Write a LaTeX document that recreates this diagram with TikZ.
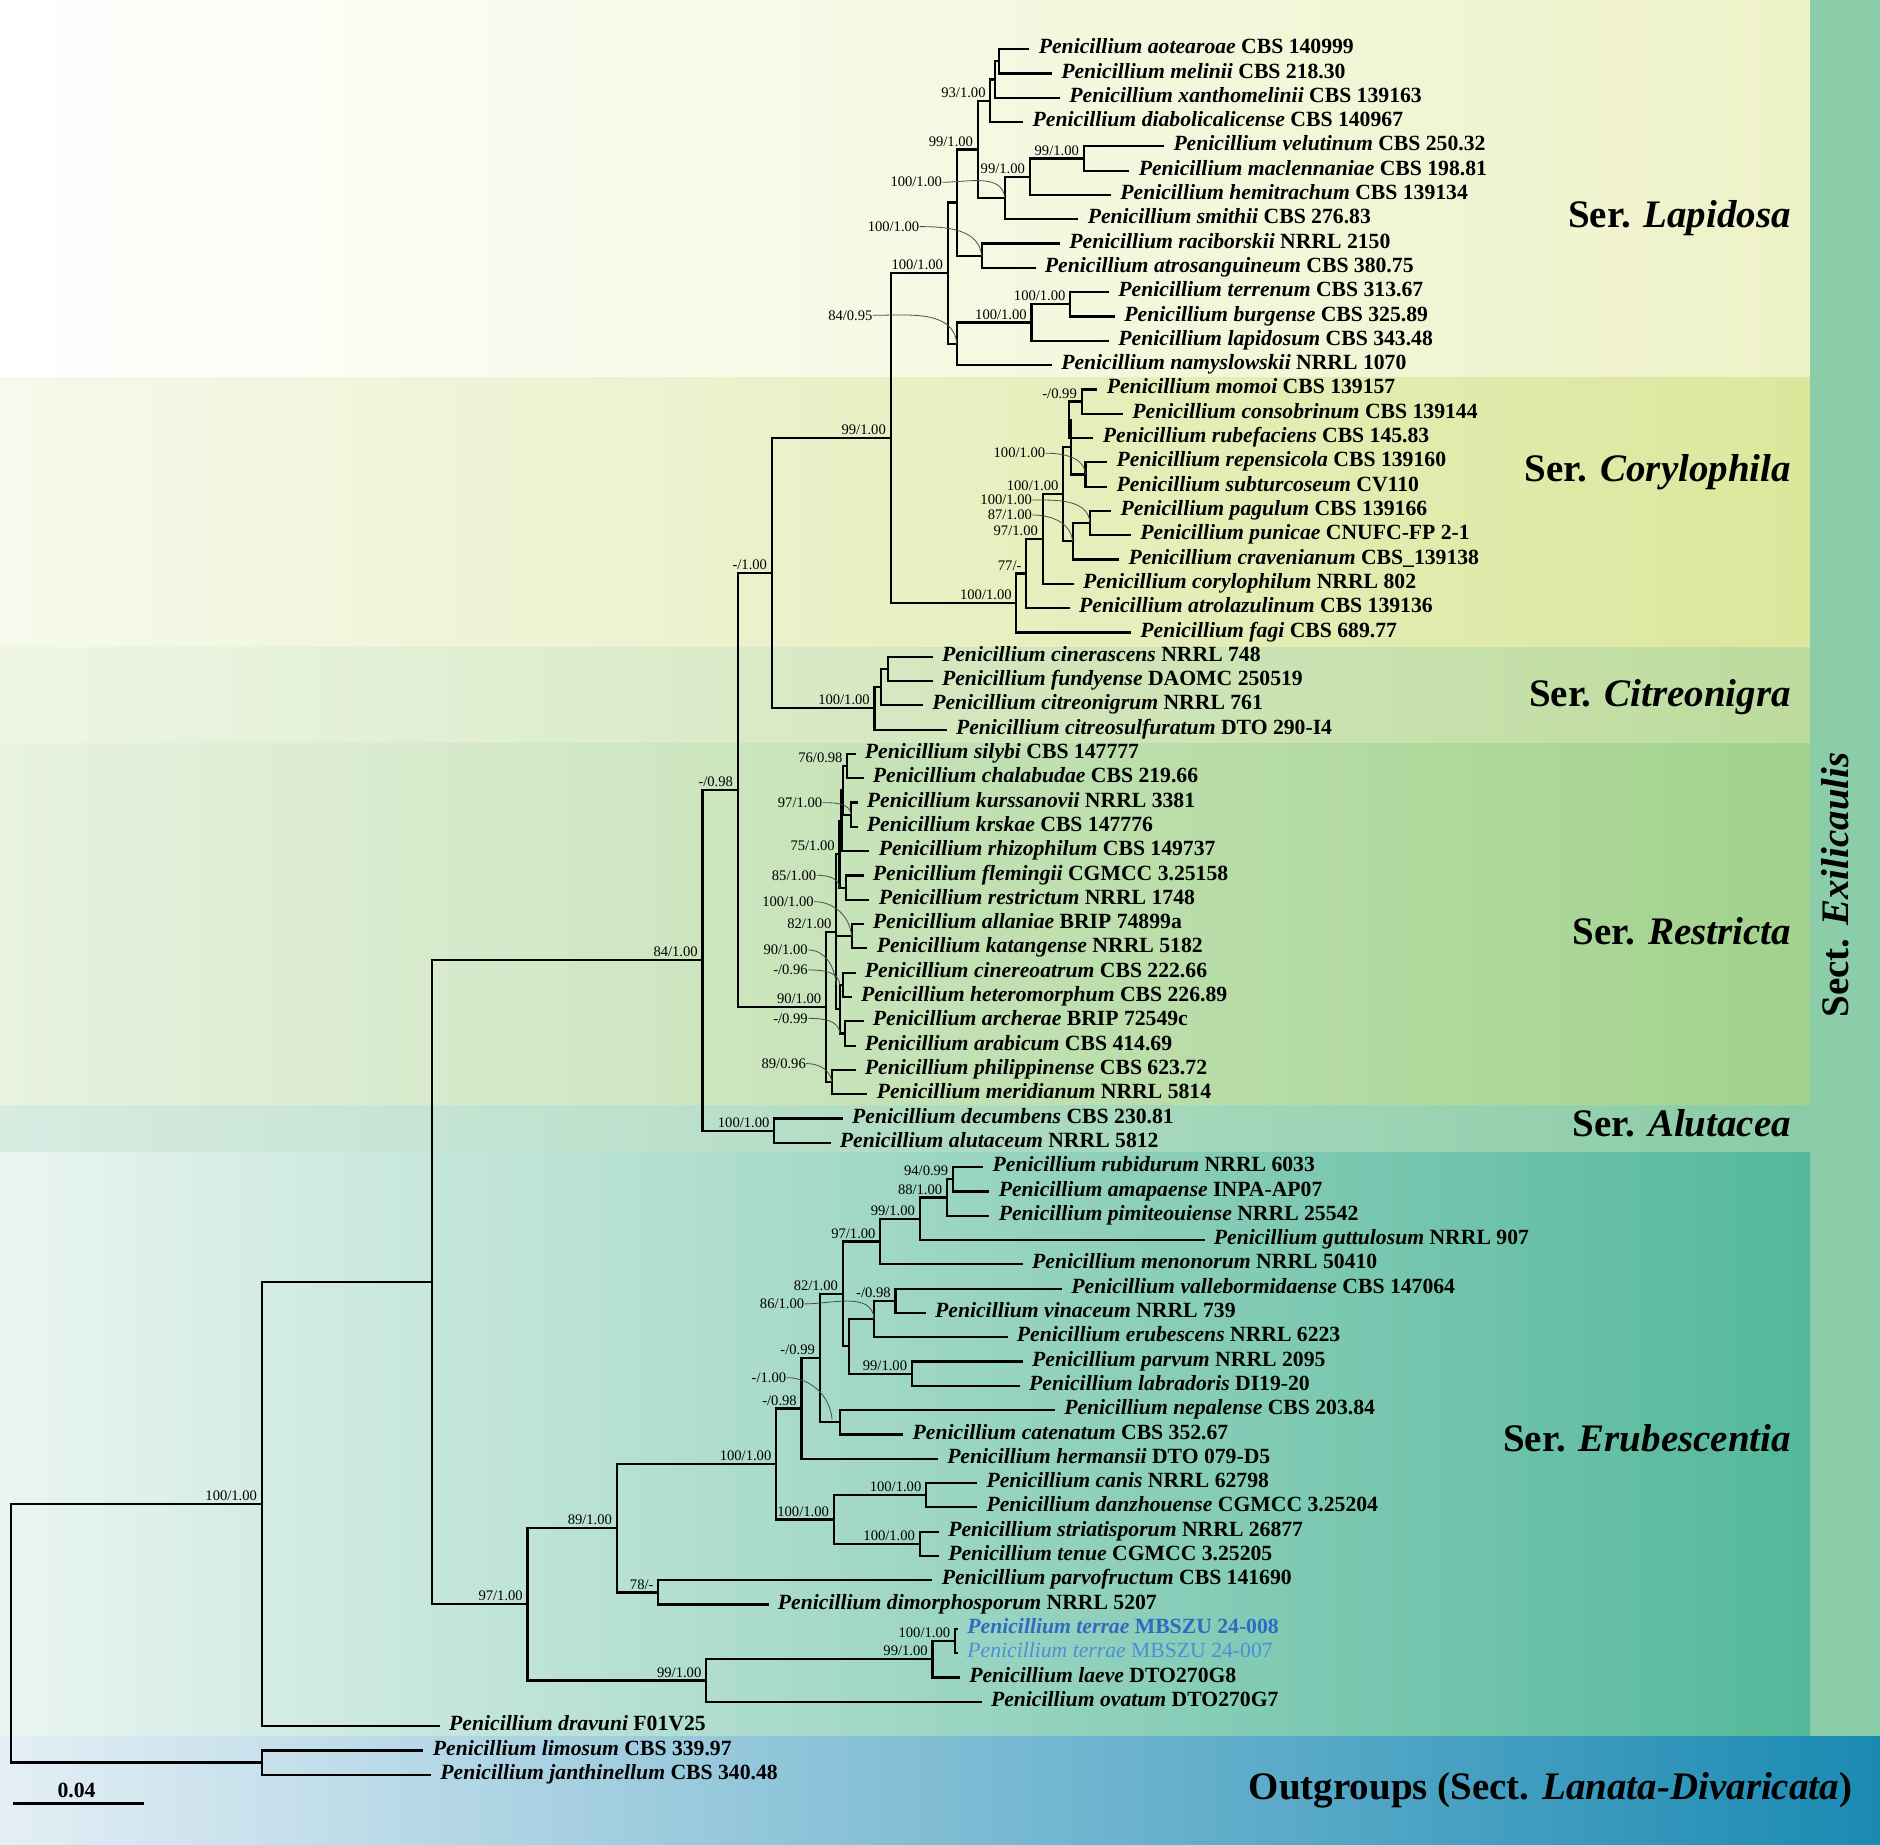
\documentclass[tikz,border=0pt]{standalone}
\usepackage{fontspec}
\setmainfont{Liberation Serif}
\usetikzlibrary{calc}

\definecolor{lapR}{HTML}{EEF2C8}
\definecolor{coryL}{HTML}{F6F9EC}
\definecolor{coryR}{HTML}{DCE79C}
\definecolor{citL}{HTML}{EEF5E5}
\definecolor{citR}{HTML}{BCDB9D}
\definecolor{resL}{HTML}{E8F2E0}
\definecolor{resR}{HTML}{A1D28C}
\definecolor{aluL}{HTML}{D8ECE2}
\definecolor{aluR}{HTML}{8ACCA6}
\definecolor{eruL}{HTML}{EAF5F2}
\definecolor{eruR}{HTML}{54B89A}
\definecolor{outL}{HTML}{E4EFF5}
\definecolor{outR}{HTML}{1A8AB3}
\definecolor{sect}{HTML}{8BCDA8}
\definecolor{terA}{HTML}{2F6BC0}
\definecolor{terB}{HTML}{4C8FD8}

\def\wtblack{\bfseries}
\def\wtterA{\bfseries}
\def\wtterB{\mdseries}

% clade: name, x, upper child, lower child
\newcommand\clade[4]{%
	\path ($(#3)!0.5!(#4)$) coordinate (#1-m);
	\coordinate (#1) at (#1-m -| #2,0);
	\draw[br] (#3) -| (#1) |- (#4);
}
\newcommand\sv[2]{\node[sup] (s#1) at (#1) {#2};}
\newcommand\svl[5]{\node[supl] (s#1) at (#2,#3) {#4};
	\draw[lead] (s#1.east) to[out=0,in=95] (#5);}

\tikzset{
	br/.style={line width=1.1pt},
	lead/.style={line width=0.4pt,black!70},
	leaf/.style={anchor=mid west,inner xsep=4.5pt,inner ysep=0pt,font=\fontsize{10.85}{13}\selectfont},
	suptxt/.style={inner sep=0pt,font=\fontsize{7.3}{8}\selectfont},
	sup/.style={suptxt,anchor=south east,xshift=-2.2pt,yshift=1.4pt},
	supl/.style={suptxt,anchor=east},
	ser/.style={inner sep=0pt,anchor=base east,font=\fontsize{19.5}{23}\selectfont\bfseries},
}

\begin{document}
\begin{tikzpicture}[x=0.6pt,y=-0.6pt]
	\useasboundingbox (0,0) rectangle (1568,1538);
	% background bands
	\shade[left color=white,right color=lapR] (0,0) rectangle (1510,315);
	\shade[left color=coryL,right color=coryR] (0,315) rectangle (1510,540);
	\shade[left color=citL,right color=citR] (0,540) rectangle (1510,620);
	\shade[left color=resL,right color=resR] (0,620) rectangle (1510,922);
	\shade[left color=aluL,right color=aluR] (0,922) rectangle (1510,961);
	\shade[left color=eruL,right color=eruR] (0,961) rectangle (1510,1448);
	\shade[left color=outL,right color=outR] (0,1448) rectangle (1568,1538);
	\fill[sect] (1510,0) rectangle (1568,1448);

	% taxa
	\foreach \tp/\spc/\strn/\lc [count=\i from 0] in {
		858.6/aotearoae/CBS 140999/black, 877.3/melinii/CBS 218.30/black,
		884.1/xanthomelinii/CBS 139163/black, 853.5/diabolicalicense/CBS 140967/black,
		970.9/velutinum/CBS 250.32/black, 942/maclennaniae/CBS 198.81/black,
		926.6/hemitrachum/CBS 139134/black, 899.4/smithii/CBS 276.83/black,
		884.1/raciborskii/NRRL 2150/black, 863.7/atrosanguineum/CBS 380.75/black,
		925/terrenum/CBS 313.67/black, 930/burgense/CBS 325.89/black,
		925/lapidosum/CBS 343.48/black, 877.3/namyslowskii/NRRL 1070/black,
		915.3/momoi/CBS 139157/black, 936.7/consobrinum/CBS 139144/black,
		912/rubefaciens/CBS 145.83/black, 923.5/repensicola/CBS 139160/black,
		923.5/subturcoseum/CV110/black, 926.8/pagulum/CBS 139166/black,
		943.3/punicae/CNUFC-FP 2-1/black, 933.4/cravenianum/CBS\_139138/black,
		895.5/corylophilum/NRRL 802/black, 892.2/atrolazulinum/CBS 139136/black,
		943.3/fagi/CBS 689.77/black,
		777.9/cinerascens/NRRL 748/black, 777.9/fundyense/DAOMC 250519/black,
		769.7/citreonigrum/NRRL 761/black, 789.5/citreosulfuratum/DTO 290-I4/black,
		713.6/silybi/CBS 147777/black, 720.2/chalabudae/CBS 219.66/black,
		715.2/kurssanovii/NRRL 3381/black, 715.2/krskae/CBS 147776/black,
		725.1/rhizophilum/CBS 149737/black, 720.2/flemingii/CGMCC 3.25158/black,
		725.1/restrictum/NRRL 1748/black, 720.2/allaniae/BRIP 74899a/black,
		723.5/katangense/NRRL 5182/black, 713.6/cinereoatrum/CBS 222.66/black,
		710.3/heteromorphum/CBS 226.89/black, 720.2/archerae/BRIP 72549c/black,
		713.6/arabicum/CBS 414.69/black, 713.6/philippinense/CBS 623.72/black,
		723.5/meridianum/NRRL 5814/black,
		702.9/decumbens/CBS 230.81/black, 692.7/alutaceum/NRRL 5812/black,
		820.1/rubidurum/NRRL 6033/black, 825.2/amapaense/INPA-AP07/black,
		825.2/pimiteouiense/NRRL 25542/black, 1004.6/guttulosum/NRRL 907/black,
		853/menonorum/NRRL 50410/black, 885.8/vallebormidaense/CBS 147064/black,
		772.1/vinaceum/NRRL 739/black, 840.3/erubescens/NRRL 6223/black,
		853/parvum/NRRL 2095/black, 850.5/labradoris/DI19-20/black,
		879.8/nepalense/CBS 203.84/black, 753.4/catenatum/CBS 352.67/black,
		782.2/hermansii/DTO 079-D5/black, 815/canis/NRRL 62798/black,
		815/danzhouense/CGMCC 3.25204/black, 783.1/striatisporum/NRRL 26877/black,
		783.1/tenue/CGMCC 3.25205/black, 777.7/parvofructum/CBS 141690/black,
		641/dimorphosporum/NRRL 5207/black,
		799/terrae/MBSZU 24-008/terA, 799/terrae/MBSZU 24-007/terB,
		800.6/laeve/DTO270G8/black, 818.7/ovatum/DTO270G7/black,
		366.8/dravuni/F01V25/black, 353.2/limosum/CBS 339.97/black,
		359.5/janthinellum/CBS 340.48/black}{
		\coordinate (t\i) at (\tp,{41+20.27*\i});
		\node[leaf,text=\lc] (lab\i) at (t\i) {\csname wt\lc\endcsname\textit{Penicillium \spc} \strn};
	}

	% Ser. Lapidosa
	\clade{n340}{833}{t0}{t1}
	\clade{n330}{829.6}{n340}{t2}
	\clade{n320}{826}{n330}{t3}
	\clade{n548}{903.8}{t4}{t5}
	\clade{n415}{858.8}{n548}{t6}
	\clade{n355}{838}{n415}{t7}
	\clade{n290}{815.5}{n320}{n355}
	\clade{n298}{818.7}{t8}{t9}
	\clade{n237u}{798}{n290}{n298}
	\clade{n515}{892.6}{t10}{t11}
	\clade{n420}{860.3}{n515}{t12}
	\clade{n237l}{798}{n420}{t13}
	\clade{n215}{790.5}{n237u}{n237l}
	% Ser. Corylophila
	\clade{n510}{902.1}{t14}{t15}
	\clade{p1}{891.5}{n510}{t16}
	\clade{n520}{905.4}{t17}{t18}
	\clade{p2}{893.2}{p1}{n520}
	\clade{n530}{909.2}{t19}{t20}
	\clade{nz}{894.6}{n530}{t21}
	\clade{n460}{886.7}{p2}{nz}
	\clade{n410}{869.6}{n460}{t22}
	\clade{n370}{855.9}{n410}{t23}
	\clade{n345}{847.7}{n370}{t24}
	\clade{n742}{742.8}{n215}{n345}
	% Ser. Citreonigra
	\clade{n602}{740.6}{t25}{t26}
	\clade{n585c}{735}{n602}{t27}
	\clade{n568}{729.4}{n585c}{t28}
	\clade{n645}{643.7}{n742}{n568}
	% Ser. Restricta
	\clade{na}{706.7}{t29}{t30}
	\clade{nb}{709.8}{t31}{t32}
	\clade{nc}{703.4}{na}{nb}
	\clade{nd}{701.8}{nc}{t33}
	\clade{nf}{705.6}{t34}{t35}
	\clade{ne}{700.2}{nd}{nf}
	\clade{ng}{710.3}{t36}{t37}
	\clade{ni}{703.4}{t38}{t39}
	\clade{nj}{704.8}{t40}{t41}
	\clade{nl}{700.6}{ni}{nj}
	\clade{n82}{697.5}{ne}{nl}
	\draw[br] (n82) |- (ng);
	\clade{np}{693.7}{t42}{t43}
	\clade{n440}{688.9}{n82}{np}
	\clade{n617}{615.3}{n645}{n440}
	% Ser. Alutacea
	\clade{nalu}{645.7}{t44}{t45}
	\clade{n585}{585.9}{n617}{nalu}
	% Ser. Erubescentia
	\clade{e1}{794.9}{t46}{t47}
	\clade{e2}{789.8}{e1}{t48}
	\clade{e3}{767.1}{e2}{t49}
	\clade{e4}{734.2}{e3}{t50}
	\clade{e5}{746.8}{t51}{t52}
	\clade{e6}{729.1}{e5}{t53}
	\clade{e7}{760.5}{t54}{t55}
	\clade{e8}{707.9}{e6}{e7}
	\clade{e9}{702.9}{e4}{e8}
	\clade{e10}{700.3}{t56}{t57}
	\clade{e11}{683.6}{e9}{e10}
	\clade{e12}{668.5}{e11}{t58}
	\clade{e13}{772.4}{t59}{t60}
	\clade{e14}{767.1}{t61}{t62}
	\clade{e15}{695.3}{e13}{e14}
	\clade{e16}{647.3}{e12}{e15}
	\clade{e17}{549}{t63}{t64}
	\clade{e18}{514.4}{e16}{e17}
	\clade{e19}{796.4}{t65}{t66}
	\clade{e20}{777.7}{e19}{t67}
	\clade{e21}{588.9}{e20}{t68}
	\clade{e22}{440}{e18}{e21}
	% backbone
	\clade{nb0}{360.4}{n585}{e22}
	\clade{na0}{218.3}{nb0}{t69}
	\clade{nout}{218.3}{t70}{t71}
	\clade{root}{9.4}{na0}{nout}

	% support values
	\sv{n320}{93/1.00}
	\sv{n290}{99/1.00}
	\sv{n415}{99/1.00}
	\sv{n548}{99/1.00}
	\sv{n215}{100/1.00}
	\sv{n515}{100/1.00}
	\sv{n420}{100/1.00}
	\sv{n742}{99/1.00}
	\sv{n510}{-/0.99}
	\sv{n460}{100/1.00}
	\sv{n410}{97/1.00}
	\sv{n370}{77/-}
	\sv{n345}{100/1.00}
	\sv{n568}{100/1.00}
	\sv{n645}{-/1.00}
	\sv{n617}{-/0.98}
	\sv{n585}{84/1.00}
	\sv{nalu}{100/1.00}
	\sv{na}{76/0.98}
	\sv{ne}{75/1.00}
	\sv{n82}{82/1.00}
	\sv{n440}{90/1.00}
	\sv{e1}{94/0.99}
	\sv{e2}{88/1.00}
	\sv{e3}{99/1.00}
	\sv{e4}{97/1.00}
	\sv{e5}{-/0.98}
	\sv{e7}{99/1.00}
	\sv{e9}{82/1.00}
	\sv{e11}{-/0.99}
	\sv{e12}{-/0.98}
	\sv{e13}{100/1.00}
	\sv{e14}{100/1.00}
	\sv{e15}{100/1.00}
	\sv{e16}{100/1.00}
	\sv{e17}{78/-}
	\sv{e18}{89/1.00}
	\sv{e19}{100/1.00}
	\sv{e20}{99/1.00}
	\sv{e21}{99/1.00}
	\sv{e22}{97/1.00}
	\sv{na0}{100/1.00}
	% values with leaders
	\coordinate (k100) at (694,1184);
	\svl{n355}{786}{152}{100/1.00}{n355}
	\svl{n298}{767}{189}{100/1.00}{n298}
	\svl{n237l}{728}{263}{84/0.95}{n237l}
	\svl{n520}{872}{378}{100/1.00}{n520}
	\svl{n530}{861}{417}{100/1.00}{n530}
	\svl{nz}{861}{429.5}{87/1.00}{nz}
	\svl{nb}{686}{669.5}{97/1.00}{nb}
	\svl{nf}{681}{730}{85/1.00}{nf -| ne}
	\svl{ng}{679}{752}{100/1.00}{ng}
	\svl{k90}{674}{792.3}{90/1.00}{ni -| n82}
	\svl{k96}{674}{809}{-/0.96}{ni -| nl}
	\svl{k99}{674}{849.3}{-/0.99}{nj -| nl}
	\svl{np}{672.4}{887}{89/0.96}{np}
	\svl{e6}{671}{1087.5}{86/1.00}{e6}
	\svl{k100}{656}{1149}{-/1.00}{k100}

	% group labels
	\node[ser] (lap) at (1494,190) {Ser. \textit{Lapidosa}};
	\node[ser] (cory) at (1494,402) {Ser. \textit{Corylophila}};
	\node[ser] (citr) at (1494,589) {Ser. \textit{Citreonigra}};
	\node[ser] (restr) at (1494,788) {Ser. \textit{Restricta}};
	\node[ser] (alut) at (1494,948) {Ser. \textit{Alutacea}};
	\node[ser] (erub) at (1494,1211) {Ser. \textit{Erubescentia}};
	\node[ser] (outg) at (1545,1501) {Outgroups (Sect. \textit{Lanata-Divaricata})};
	\node[ser,anchor=center,rotate=90] (sect) at (1531,738) {Sect. \textit{Exilicaulis}};

	% scale bar
	\coordinate (sb1) at (10.6,1504);
	\coordinate (sb2) at (120.4,1504);
	\draw[line width=1.6pt] (sb1) -- (sb2);
	\node[inner sep=0pt,font=\fontsize{10.85}{13}\selectfont\bfseries] (sbl) at (63.8,1493) {0.04};
\end{tikzpicture}
\end{document}
